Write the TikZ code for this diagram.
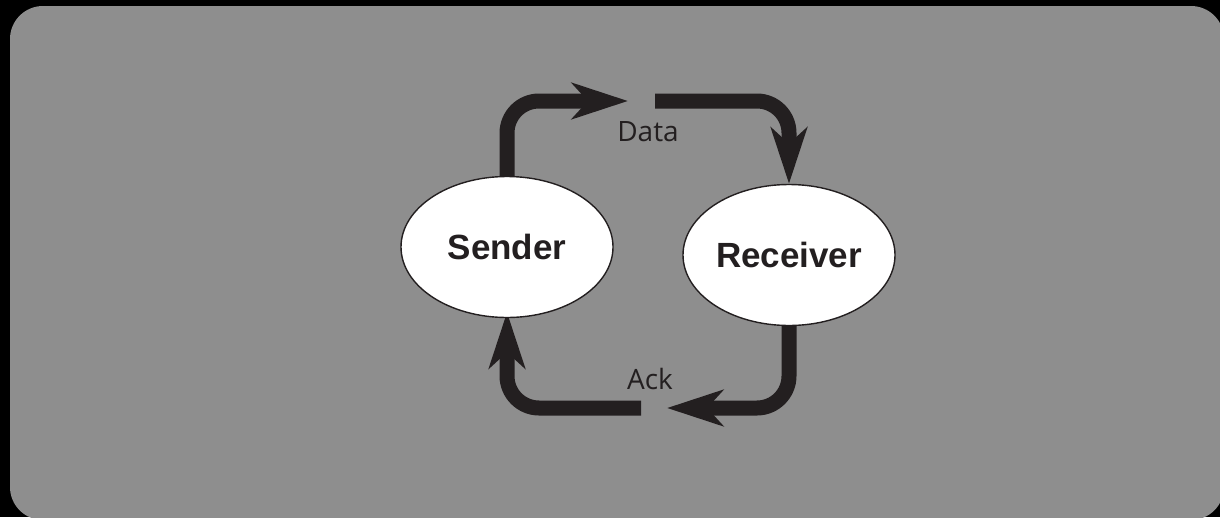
\documentclass[tikz,border=0pt]{standalone}
\usepackage{fontspec}
\setmainfont{Liberation Sans}
\newfontfamily\labelfont{Open Sans}
\usetikzlibrary{shapes.geometric,arrows.meta,backgrounds}
\definecolor{ink}{HTML}{231F20}
\definecolor{panel}{HTML}{8E8E8E}
\tikzset{
  party/.style={ellipse, draw=ink, line width=1.4pt, fill=white,
    minimum width=212pt, minimum height=141pt, inner sep=0pt,
    font=\fontsize{35}{40}\selectfont\bfseries, text=ink},
  msg/.style={font=\labelfont\fontsize{28}{32}\selectfont, text=ink, inner sep=0pt},
  flow/.style={draw=ink, line width=15pt, rounded corners=32pt,
    -{Stealth[length=56pt,width=36pt,inset=16pt]}}
}
\begin{document}
\begin{tikzpicture}[x=1pt,y=-1pt]
\useasboundingbox (0,0) rectangle (1220,517);
\node[party] (sender) at (507,247) {Sender};
\node[party] (receiver) at (789,255) {Receiver};
\node[msg] (data) at (648,132) {Data};
\node[msg] (ack) at (650,379) {Ack};
\coordinate (dtip) at (628,101);
\coordinate (dstart) at (655,101);
\coordinate (atip) at (667,408);
\coordinate (astart) at (641,408);
\begin{scope}[on background layer]
  \fill[black] (0,0) rectangle (1220,517);
  \fill[panel, rounded corners=33pt] (10,6) rectangle (1224,520);
  \path[flow] (sender.north) |- (dtip);
  \path[flow] (dstart) -| (receiver.north);
  \path[flow] (receiver.south) |- (atip);
  \path[flow] (astart) -| ([yshift=6pt]sender.south);
\end{scope}
\end{tikzpicture}
\end{document}
